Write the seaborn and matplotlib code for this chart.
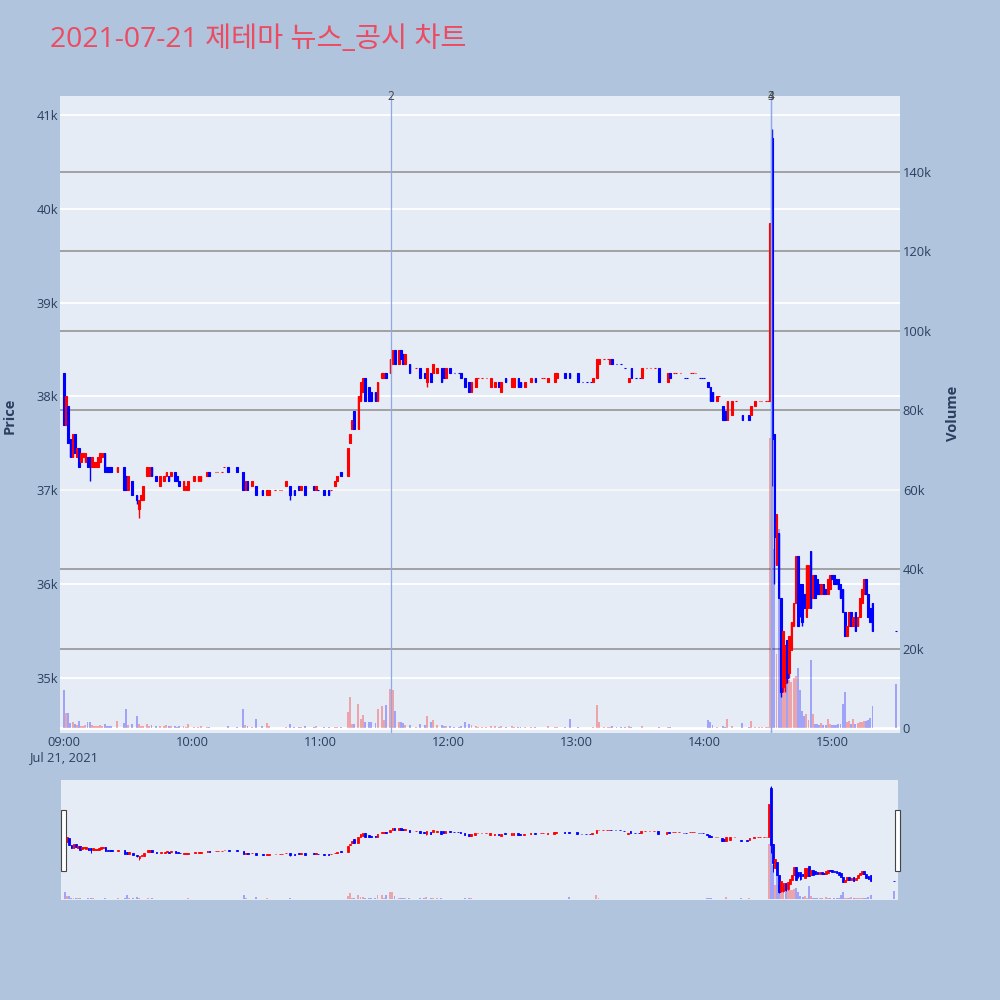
import numpy as np
import matplotlib
matplotlib.use("Agg")
import matplotlib.pyplot as plt
import matplotlib.transforms as mtransforms
from matplotlib.patches import Rectangle
import seaborn as sns

# 1-minute candles (minutes without trades are skipped)
times = [
    "09:00", "09:01", "09:02", "09:03", "09:04", "09:05", "09:06", "09:07", "09:08", "09:09",
    "09:10", "09:11", "09:12", "09:13", "09:14", "09:15", "09:16", "09:17", "09:18", "09:19",
    "09:20", "09:21", "09:22", "09:25", "09:28", "09:29", "09:30", "09:32", "09:34", "09:35",
    "09:36", "09:37", "09:39", "09:40", "09:41", "09:43",
    "09:45", "09:47", "09:48", "09:49", "09:50", "09:52", "09:53", "09:54", "09:56", "09:57",
    "09:58", "10:01", "10:03", "10:04", "10:07", "10:08", "10:11", "10:12", "10:14", "10:15",
    "10:17", "10:21", "10:24", "10:25", "10:26", "10:28", "10:30", "10:33", "10:35", "10:36",
    "10:39", "10:41", "10:42", "10:44", "10:46", "10:48", "10:50", "10:51", "10:53", "10:57",
    "10:58", "10:59", "11:02", "11:04", "11:05", "11:07", "11:08", "11:10",
    "11:13", "11:14", "11:15", "11:16", "11:18", "11:19", "11:20", "11:21", "11:23", "11:24",
    "11:26", "11:27", "11:29", "11:30", "11:31", "11:33", "11:34", "11:35", "11:37", "11:38",
    "11:39", "11:40", "11:42", "11:45", "11:47", "11:49", "11:50", "11:52", "11:53", "11:55",
    "11:57", "11:58", "11:59",
    "12:01", "12:03", "12:05", "12:06", "12:08", "12:10", "12:11", "12:13", "12:14", "12:16",
    "12:18", "12:20", "12:22", "12:24", "12:25", "12:27", "12:30", "12:31", "12:33", "12:34",
    "12:36", "12:39", "12:41", "12:44", "12:45", "12:47", "12:50", "12:51", "12:55", "12:57",
    "13:01", "13:03", "13:05", "13:07", "13:08", "13:10", "13:11", "13:13", "13:15", "13:16",
    "13:17", "13:19", "13:21", "13:23", "13:25", "13:26", "13:28", "13:30", "13:31", "13:33",
    "13:35", "13:37", "13:39", "13:43", "13:44", "13:46", "13:47", "13:49", "13:51", "13:52",
    "13:54", "13:55", "13:56", "13:58", "13:59",
    "14:00", "14:02", "14:03", "14:04", "14:06", "14:07", "14:09", "14:10", "14:11", "14:13",
    "14:15", "14:18", "14:21", "14:22", "14:24", "14:26", "14:27", "14:29", "14:30", "14:31",
    "14:32", "14:33", "14:34", "14:35", "14:36", "14:37", "14:38", "14:39", "14:40", "14:41",
    "14:42", "14:43", "14:44", "14:45", "14:46", "14:47", "14:48", "14:49", "14:50", "14:51",
    "14:52", "14:53", "14:54", "14:55", "14:56", "14:57", "14:58", "14:59",
    "15:00", "15:01", "15:02", "15:03", "15:04", "15:05", "15:06", "15:07", "15:08", "15:09",
    "15:10", "15:11", "15:12", "15:13", "15:14", "15:15", "15:16", "15:17", "15:18", "15:19",
    "15:30",
]
opens = [
    38250, 37700, 37900, 37550, 37350, 37600, 37350, 37450, 37300, 37350,
    37300, 37350, 37350, 37250, 37250, 37250, 37250, 37300, 37350, 37400,
    37250, 37250, 37250, 37200, 37250, 37150, 37000, 37100, 36950, 36800,
    36900, 36900, 37150, 37150, 37250, 37150,
    37050, 37100, 37150, 37150, 37150, 37200, 37150, 37100, 37000, 37000,
    37000, 37100, 37100, 37100, 37150, 37200, 37200, 37200, 37200, 37250,
    37250, 37250, 37200, 37000, 37100, 37050, 37050, 37000, 36950, 36950,
    37000, 37000, 37000, 37050, 37050, 37000, 37050, 37000, 37050, 37050,
    37000, 37000, 37000, 37000, 37000, 37050, 37100, 37200,
    37150, 37500, 37650, 37850, 37650, 37950, 38050, 38200, 38100, 38050,
    38050, 37950, 38200, 38200, 38250, 38250, 38350, 38500, 38350, 38500,
    38450, 38350, 38350, 38300, 38300, 38250, 38150, 38250, 38250, 38250,
    38300, 38300, 38200,
    38300, 38250, 38250, 38250, 38200, 38150, 38050, 38100, 38200, 38200,
    38200, 38100, 38100, 38150, 38050, 38200, 38100, 38100, 38200, 38150,
    38100, 38150, 38200, 38200, 38200, 38150, 38150, 38200, 38250, 38250,
    38250, 38150, 38150, 38150, 38150, 38200, 38350, 38400, 38400, 38350,
    38400, 38350, 38350, 38300, 38150, 38300, 38200, 38200, 38200, 38300,
    38300, 38300, 38300, 38150, 38250, 38250, 38250, 38250, 38200, 38200,
    38250, 38250, 38250, 38200, 38200,
    38200, 38150, 38100, 38050, 37950, 38000, 37900, 37850, 37750, 37800,
    37950, 37800, 37800, 37800, 37900, 37950, 37950, 37950, 37950, 37950,
    40750, 37600, 36200, 36550, 35850, 34900, 34950, 35400, 35050, 35300,
    35550, 35800, 36300, 36000, 36000, 35900, 35650, 35750, 36350, 35850,
    36100, 36050, 36000, 35900, 36000, 35950, 35900, 35950,
    36100, 36100, 36050, 36050, 36000, 35950, 35700, 35450, 35550, 35700,
    35550, 35700, 35550, 35650, 35800, 35900, 36050, 35900, 35750, 35800,
    35500,
]
highs = [
    38250, 38000, 37900, 37550, 37600, 37600, 37450, 37450, 37400, 37400,
    37400, 37350, 37350, 37350, 37300, 37300, 37350, 37400, 37400, 37400,
    37250, 37250, 37250, 37250, 37250, 37150, 37150, 37100, 36950, 36900,
    36950, 37050, 37250, 37250, 37250, 37150,
    37150, 37150, 37200, 37150, 37200, 37200, 37150, 37100, 37100, 37050,
    37100, 37150, 37150, 37150, 37200, 37200, 37200, 37200, 37200, 37250,
    37250, 37250, 37200, 37100, 37100, 37100, 37050, 37000, 37000, 37000,
    37000, 37000, 37000, 37100, 37050, 37000, 37050, 37050, 37050, 37050,
    37050, 37000, 37000, 37000, 37000, 37100, 37150, 37200,
    37450, 37600, 37750, 37850, 38000, 38150, 38200, 38200, 38100, 38050,
    38050, 38150, 38250, 38250, 38250, 38400, 38500, 38500, 38500, 38500,
    38450, 38450, 38350, 38300, 38300, 38250, 38300, 38250, 38350, 38300,
    38300, 38300, 38300,
    38300, 38250, 38250, 38250, 38200, 38150, 38150, 38200, 38200, 38200,
    38200, 38200, 38150, 38150, 38150, 38200, 38200, 38200, 38200, 38150,
    38150, 38200, 38200, 38200, 38200, 38200, 38250, 38250, 38250, 38250,
    38250, 38150, 38150, 38150, 38200, 38400, 38400, 38400, 38400, 38400,
    38400, 38350, 38350, 38300, 38200, 38300, 38200, 38200, 38300, 38300,
    38300, 38300, 38300, 38250, 38250, 38250, 38250, 38250, 38200, 38200,
    38250, 38250, 38250, 38200, 38200,
    38200, 38150, 38100, 38050, 38000, 38000, 37900, 37850, 37950, 37950,
    37950, 37800, 37800, 37900, 37950, 37950, 37950, 37950, 37950, 39850,
    40850, 37600, 36750, 36550, 35850, 35500, 35350, 35400, 35450, 35600,
    35800, 36300, 36300, 36000, 36000, 35900, 36200, 36200, 36350, 36100,
    36100, 36050, 36000, 36000, 36000, 35950, 36050, 36100,
    36100, 36100, 36050, 36050, 36000, 35950, 35700, 35550, 35700, 35700,
    35650, 35700, 35650, 35850, 35950, 36050, 36050, 35900, 35750, 35800,
    35500,
]
lows = [
    37700, 37700, 37500, 37350, 37350, 37400, 37350, 37250, 37300, 37350,
    37300, 37250, 37100, 37250, 37250, 37250, 37250, 37300, 37350, 37200,
    37200, 37200, 37200, 37200, 37000, 37000, 37000, 36950, 36850, 36700,
    36900, 36900, 37150, 37150, 37150, 37100,
    37050, 37100, 37150, 37100, 37150, 37100, 37100, 37050, 37000, 37000,
    37000, 37100, 37100, 37100, 37150, 37150, 37200, 37200, 37200, 37250,
    37200, 37200, 37000, 37000, 37000, 37050, 36950, 36950, 36950, 36950,
    37000, 37000, 37000, 37050, 36900, 36950, 37000, 37000, 36950, 37000,
    37000, 37000, 36950, 36950, 37000, 37050, 37100, 37150,
    37150, 37500, 37650, 37650, 37650, 37950, 38050, 37950, 37950, 37950,
    37950, 37950, 38200, 38200, 38200, 38250, 38350, 38350, 38350, 38400,
    38350, 38350, 38250, 38300, 38200, 38200, 38100, 38150, 38250, 38250,
    38150, 38200, 38200,
    38250, 38250, 38250, 38200, 38100, 38050, 38050, 38100, 38200, 38200,
    38200, 38100, 38100, 38100, 38050, 38150, 38100, 38100, 38100, 38100,
    38100, 38150, 38150, 38200, 38200, 38150, 38150, 38200, 38200, 38200,
    38150, 38150, 38150, 38150, 38150, 38200, 38350, 38400, 38400, 38350,
    38350, 38350, 38350, 38300, 38150, 38200, 38200, 38200, 38200, 38300,
    38300, 38300, 38150, 38150, 38200, 38250, 38250, 38250, 38200, 38200,
    38250, 38250, 38250, 38200, 38200,
    38200, 38100, 37950, 37950, 37950, 38000, 37750, 37750, 37750, 37800,
    37950, 37750, 37750, 37800, 37900, 37950, 37950, 37950, 37950, 37950,
    37050, 36000, 36200, 35850, 34800, 34850, 34850, 34950, 35000, 35300,
    35550, 35800, 35550, 35650, 35550, 35750, 35650, 35750, 35750, 35850,
    35850, 35900, 35900, 35900, 35900, 35900, 35900, 35950,
    36050, 36000, 36000, 35950, 35850, 35700, 35450, 35450, 35550, 35550,
    35550, 35500, 35550, 35650, 35800, 35900, 35900, 35650, 35600, 35500,
    35500,
]
closes = [
    37700, 38000, 37500, 37350, 37600, 37400, 37450, 37250, 37400, 37400,
    37400, 37250, 37250, 37350, 37300, 37300, 37350, 37400, 37400, 37200,
    37200, 37200, 37200, 37250, 37000, 37000, 37150, 36950, 36900, 36900,
    36950, 37050, 37250, 37250, 37150, 37100,
    37150, 37150, 37200, 37100, 37200, 37100, 37100, 37050, 37100, 37050,
    37100, 37150, 37150, 37150, 37200, 37150, 37200, 37200, 37200, 37250,
    37200, 37200, 37000, 37100, 37000, 37100, 36950, 36950, 37000, 37000,
    37000, 37000, 37000, 37100, 36950, 36950, 37000, 37050, 36950, 37000,
    37050, 37000, 36950, 36950, 37000, 37100, 37150, 37150,
    37450, 37600, 37750, 37650, 38000, 38150, 38200, 37950, 37950, 37950,
    37950, 38150, 38250, 38250, 38200, 38400, 38500, 38350, 38500, 38400,
    38350, 38450, 38250, 38300, 38200, 38200, 38300, 38150, 38350, 38300,
    38150, 38200, 38300,
    38250, 38250, 38250, 38200, 38100, 38050, 38150, 38200, 38200, 38200,
    38200, 38200, 38150, 38100, 38150, 38150, 38200, 38200, 38100, 38100,
    38150, 38200, 38150, 38200, 38200, 38200, 38250, 38250, 38200, 38200,
    38150, 38150, 38150, 38150, 38200, 38400, 38400, 38400, 38400, 38400,
    38350, 38350, 38350, 38300, 38200, 38200, 38200, 38200, 38300, 38300,
    38300, 38300, 38150, 38250, 38200, 38250, 38250, 38250, 38200, 38200,
    38250, 38250, 38250, 38200, 38200,
    38200, 38100, 37950, 37950, 38000, 38000, 37750, 37750, 37950, 37950,
    37950, 37750, 37750, 37900, 37950, 37950, 37950, 37950, 37950, 39850,
    37550, 36500, 36750, 35850, 34850, 35500, 35350, 35000, 35450, 35600,
    35800, 36300, 35550, 35750, 35600, 35750, 36200, 36200, 35750, 36100,
    35850, 35900, 35900, 36000, 35900, 35900, 36050, 36100,
    36050, 36000, 36000, 35950, 35850, 35700, 35450, 35550, 35700, 35550,
    35650, 35500, 35650, 35850, 35950, 36050, 35900, 35650, 35600, 35500,
    35500,
]
volumes = [
    9500, 3800, 3800, 1200, 1500, 1000, 800, 1800, 600, 500,
    700, 1500, 1600, 800, 500, 400, 600, 700, 600, 900,
    500, 400, 500, 1700, 1200, 4800, 800, 1000, 3000, 1000,
    500, 600, 1000, 500, 800, 400,
    600, 400, 700, 500, 600, 500, 300, 400, 500, 300,
    1000, 200, 300, 400, 300, 300, 100, 100, 100, 100,
    400, 200, 4800, 800, 600, 300, 2300, 400, 1300, 500,
    100, 100, 100, 200, 1000, 300, 300, 300, 400, 300,
    400, 100, 300, 300, 100, 300, 300, 300,
    4000, 7800, 1000, 1000, 6000, 2300, 3300, 1500, 1500, 1500,
    1200, 4800, 5500, 2000, 5800, 9800, 9600, 4300, 1500, 1500,
    1200, 800, 800, 300, 1000, 800, 3000, 1500, 2000, 800,
    800, 500, 500,
    500, 200, 200, 600, 1500, 1000, 800, 500, 200, 200,
    200, 500, 400, 300, 400, 300, 400, 300, 300, 200,
    300, 300, 300, 100, 100, 400, 300, 300, 300, 2300,
    300, 100, 100, 100, 300, 5800, 1500, 200, 200, 300,
    600, 200, 200, 200, 400, 300, 100, 100, 400, 100,
    100, 100, 300, 300, 300, 100, 100, 100, 100, 100,
    100, 100, 100, 100, 100,
    100, 2000, 1500, 800, 300, 100, 400, 300, 2300, 500,
    100, 1200, 300, 1700, 300, 200, 300, 200, 300, 73000,
    150000, 45000, 18600, 50000, 20000, 18000, 17000, 14000, 12000, 11600,
    12500, 13000, 15000, 9600, 4300, 3000, 3500, 2000, 17000, 3500,
    1000, 1000, 800, 1200, 800, 700, 2300, 1000,
    800, 700, 800, 1000, 1000, 6000, 9000, 1500, 1800, 1000,
    2300, 1000, 1200, 1500, 1500, 1700, 1800, 2000, 2500, 5500,
    11000,
]

# news / disclosure markers
news_times = ["11:33:20", "14:31:30", "14:31:30"]
news_labels = ["2", "3", "4"]

price_ticks = [35000, 36000, 37000, 38000, 39000, 40000, 41000]
price_tick_labels = ["35k", "36k", "37k", "38k", "39k", "40k", "41k"]
volume_ticks = [0, 20000, 40000, 60000, 80000, 100000, 120000, 140000]
volume_tick_labels = ["0", "20k", "40k", "60k", "80k", "100k", "120k", "140k"]
hour_ticks = ["09:00", "10:00", "11:00", "12:00", "13:00", "14:00", "15:00"]
date_label = "Jul 21, 2021"

PAPER = "#B0C4DE"
PLOT_BG = "#E5ECF6"
FONT_C = "#2a3f5f"
UP = "#FF0000"
DOWN = "#0000FF"

sns.set_theme(style="white")
plt.rcParams["font.family"] = ["Open Sans", "Noto Sans CJK KR", "DejaVu Sans"]


def to_min(t):
    parts = [int(p) for p in t.split(":")]
    sec = parts[2] if len(parts) > 2 else 0
    return parts[0] * 60 + parts[1] + sec / 60 - 540


x = np.array([to_min(t) for t in times], dtype=float)
o = np.array(opens, dtype=float)
h = np.array(highs, dtype=float)
l = np.array(lows, dtype=float)
c = np.array(closes, dtype=float)
v = np.array(volumes, dtype=float)
assert len(x) == len(o) == len(h) == len(l) == len(c) == len(v)

# plotly-like direction: flat candles compare with the previous close
colors = []
up = True
prev = None
for oi, ci in zip(o, c):
    if ci > oi:
        up = True
    elif ci < oi:
        up = False
    elif prev is not None and ci != prev:
        up = ci > prev
    prev = ci
    colors.append(UP if up else DOWN)

XLIM = (-1.9, 391.9)
PLIM = (34414, 41202)
VLIM = (-1260, 159150)


def draw_candles(ax, lw_body, lw_wick):
    ax.vlines(x, l, h, colors=colors, linewidth=lw_wick, zorder=3)
    ax.bar(x, np.abs(c - o), bottom=np.minimum(o, c), width=0.8,
           color=colors, edgecolor=colors, linewidth=lw_body, zorder=4)


fig = plt.figure(figsize=(10, 10), dpi=100, facecolor=PAPER)
rect = [0.060, 0.267, 0.840, 0.637]

# bottom layer: background and volume grid
ax_g = fig.add_axes(rect)
ax_g.set_facecolor(PLOT_BG)
ax_g.set_xlim(*XLIM)
ax_g.set_ylim(*VLIM)
ax_g.set_yticks(volume_ticks[1:])
ax_g.grid(axis="y", color="#9c9c9c", linewidth=1.3)
ax_g.grid(axis="x", visible=False)
ax_g.axhline(0, color="white", linewidth=2, zorder=1)

# price layer
ax_p = fig.add_axes(rect, sharex=ax_g)
ax_p.set_zorder(1)
ax_p.patch.set_visible(False)
ax_p.set_ylim(*PLIM)
ax_p.set_yticks(price_ticks)
ax_p.set_yticklabels(price_tick_labels)
ax_p.grid(axis="y", color="white", linewidth=1.3)
ax_p.grid(axis="x", visible=False)
draw_candles(ax_p, 0.8, 1.0)
ax_p.set_xticks([to_min(t) for t in hour_ticks])
ax_p.set_xticklabels([hour_ticks[0] + "\n" + date_label] + hour_ticks[1:])
ax_p.tick_params(axis="x", length=0, pad=2, labelsize=9.3, colors=FONT_C)
ax_p.tick_params(axis="y", length=0, pad=1.5, labelsize=9.3, colors=FONT_C)

# volume layer on top
ax_v = fig.add_axes(rect, sharex=ax_g)
ax_v.set_zorder(2)
ax_v.patch.set_visible(False)
ax_v.set_ylim(*VLIM)
ax_v.bar(x, v, width=0.9, color=colors, alpha=0.3, linewidth=0)
ax_v.yaxis.tick_right()
ax_v.set_yticks(volume_ticks)
ax_v.set_yticklabels(volume_tick_labels)
ax_v.tick_params(axis="y", length=0, pad=2, labelsize=9.3, colors=FONT_C)
ax_v.grid(False)

# only the price layer shows x labels, only ax_v shows right labels
ax_g.tick_params(axis="both", length=0, labelbottom=False, labelleft=False,
                 labelright=False)
ax_v.tick_params(axis="x", length=0, labelbottom=False)

trans = mtransforms.blended_transform_factory(ax_v.transData, ax_v.transAxes)
for nt, lab in zip(news_times, news_labels):
    ax_v.axvline(to_min(nt), color="#8fa8e8", linewidth=0.9, zorder=6)
    ax_v.text(to_min(nt), 1.0, lab, transform=trans, ha="center", va="center",
              fontsize=8.5, color="#444444", zorder=7)

for ax in (ax_g, ax_p, ax_v):
    for s in ax.spines.values():
        s.set_visible(False)

# range slider
srect = [0.061, 0.100, 0.837, 0.120]
ax_s = fig.add_axes(srect)
ax_s.set_facecolor(PLOT_BG)
ax_s.set_xlim(*XLIM)
ax_s.set_ylim(*PLIM)
draw_candles(ax_s, 0.6, 0.7)
ax_s.set_xticks([])
ax_s.set_yticks([])
ax_s.grid(False)
ax_sv = fig.add_axes(srect, sharex=ax_s)
ax_sv.patch.set_visible(False)
ax_sv.set_ylim(*VLIM)
ax_sv.bar(x, v, width=0.9, color=colors, alpha=0.3, linewidth=0)
ax_sv.set_yticks([])
ax_sv.grid(False)
ax_s.tick_params(axis="both", length=0, labelbottom=False, labelleft=False)
ax_sv.tick_params(axis="both", length=0, labelbottom=False, labelleft=False)
for ax in (ax_s, ax_sv):
    for s in ax.spines.values():
        s.set_visible(False)

for hx in (0.0605, 0.8945):
    fig.add_artist(Rectangle((hx, 0.129), 0.005, 0.061, transform=fig.transFigure,
                             facecolor="white", edgecolor="#444444", linewidth=0.8))

fig.text(0.050, 0.960, "2021-07-21 제테마 뉴스_공시 차트", fontsize=20.4,
         color="#EB4C62", va="center", ha="left")
fig.text(0.010, 0.584, "Price", rotation=90, va="center", ha="center",
         fontsize=10.5, fontweight="bold", color=FONT_C)
fig.text(0.953, 0.587, "Volume", rotation=90, va="center", ha="center",
         fontsize=10.5, fontweight="bold", color=FONT_C)

fig.savefig("out.png", dpi=100, facecolor=fig.get_facecolor())
